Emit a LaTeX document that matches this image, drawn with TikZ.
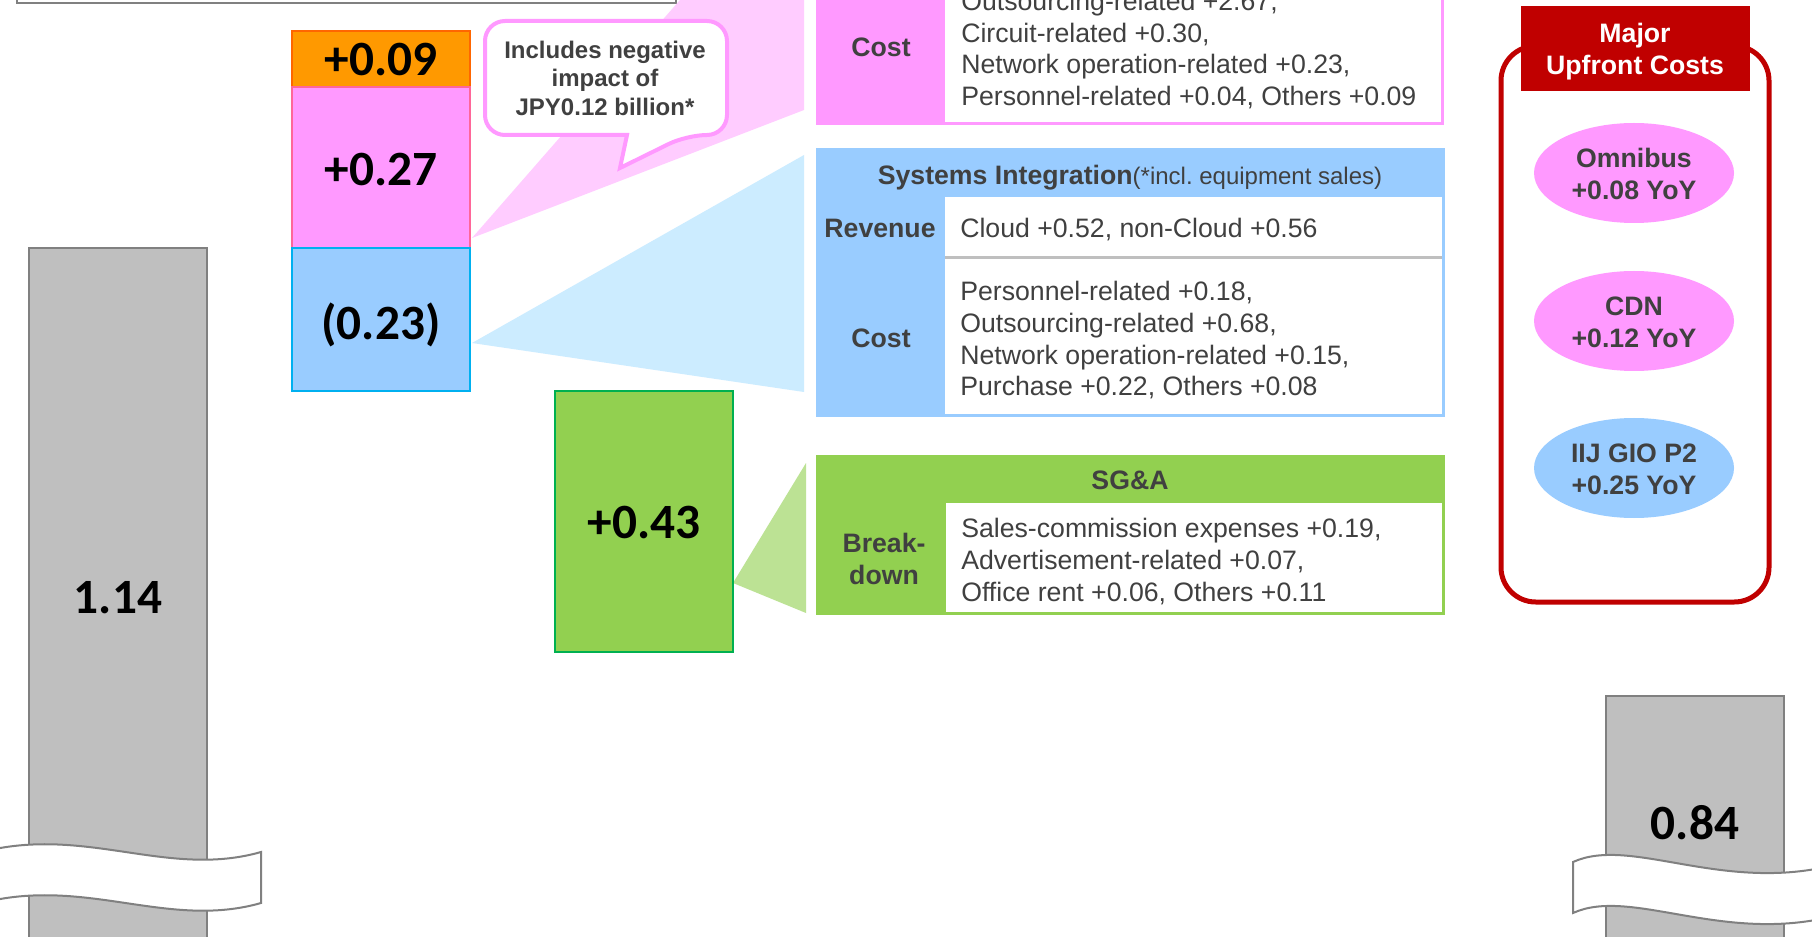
\documentclass[tikz,border=0pt]{standalone}
\usepackage{fontspec}
\setmainfont{Liberation Sans}
\newfontfamily\barfont{Carlito}
\frenchspacing
\definecolor{txtgray}{HTML}{404040}
\definecolor{barfill}{HTML}{BFBFBF}
\definecolor{bardraw}{HTML}{808080}
\definecolor{orgfill}{HTML}{FF9900}
\definecolor{orgdraw}{HTML}{FF6600}
\definecolor{pnkfill}{HTML}{FF99FF}
\definecolor{pnkdraw}{HTML}{FF6699}
\definecolor{blufill}{HTML}{99CCFF}
\definecolor{bludraw}{HTML}{00B0F0}
\definecolor{grnfill}{HTML}{92D050}
\definecolor{grndraw}{HTML}{00B050}
\definecolor{pnktri}{HTML}{FFCCFF}
\definecolor{blutri}{HTML}{CCECFF}
\definecolor{grntri}{HTML}{BCE294}
\definecolor{majred}{HTML}{C00000}
\definecolor{divgray}{HTML}{BFBFBF}

\begin{document}
\begin{tikzpicture}[x=0.75pt,y=0.75pt,yscale=-1,xscale=1,
  barlabel/.style={font=\barfont\bfseries\fontsize{37}{40}\selectfont, inner sep=0pt, text depth=0pt},
  celltext/.style={font=\fontsize{20}{23.75}\selectfont, text=txtgray, align=left, anchor=west, inner sep=0pt},
  cellhead/.style={font=\bfseries\fontsize{20}{24}\selectfont, text=txtgray, align=center, inner sep=0pt},
  ovaltext/.style={font=\bfseries\fontsize{20}{24}\selectfont, text=txtgray, align=center, inner sep=0pt},
  calltext/.style={font=\bfseries\fontsize{18}{21.4}\selectfont, text=txtgray, align=center, inner sep=0pt},
  barbox/.style={fill=barfill, draw=bardraw, line width=1.2pt},
  breakband/.style={fill=white, draw=bardraw, line width=1.5pt},
  callout/.style={fill=white, draw=pnkfill, line width=3pt}]
\useasboundingbox (0,0) rectangle (1812,937);
\clip (0,0) rectangle (1812,937);
\fill[white] (0,0) rectangle (1812,937);

% frame cut off at the top
\draw[bardraw, line width=1.5pt] (17,-60) rectangle (676,3.5);

% fans from the bars to the tables
\fill[pnktri] (472,238) -- (804,-142) -- (804,110) -- cycle;
\fill[blutri] (472,343) -- (804,155) -- (804,392) -- cycle;
\fill[grntri] (733,583) -- (806,463) -- (806,613) -- cycle;

% end bars
\draw[barbox] (29,248) rectangle (207,960);
\node[barlabel] (prev) at (118,597) {1.14};
\draw[barbox] (1606,696) rectangle (1784,960);
\node[barlabel] (curr) at (1695,822) {0.84};

% breaks
\draw[breakband] (-10,850) .. controls (90,828) and (170,878) .. (261,852) -- (261,903)
  .. controls (170,929) and (90,879) .. (-10,901) -- cycle;
\draw[breakband] (1830,866) .. controls (1720,892) and (1630,836) .. (1573,862) -- (1573,913)
  .. controls (1630,887) and (1720,943) .. (1830,917);

% stacked bar
\draw[fill=orgfill, draw=orgdraw, line width=1.2pt] (292,31) rectangle (470,87);
\node[barlabel] (orange) at (381,59) {+0.09};
\draw[fill=pnkfill, draw=pnkdraw, line width=1.2pt] (292,87) rectangle (470,248);
\node[barlabel] (pink) at (381,169) {+0.27};
\draw[fill=blufill, draw=bludraw, line width=1.2pt] (292,248) rectangle (470,391);
\node[barlabel] (blue) at (381,321) {(0.23)};
\draw[fill=grnfill, draw=grndraw, line width=1.2pt] (555,391) rectangle (733,652);
\node[barlabel] (green) at (644,522) {+0.43};

% note bubble
\draw[callout] (485,80) [rounded corners=15pt] -- (485,21) -- (727,21) -- (727,135) -- (687,135)
  [sharp corners] -- (620,168) -- (627,135) [rounded corners=15pt] -- (485,135) -- cycle;
\node[calltext] (note) at (605,78) {Includes negative\\impact of\\JPY0.12 billion*};

% network services table
\fill[pnkfill] (816,-80) rectangle (1444,125);
\fill[white] (945,-60) rectangle (1441,122);
\node[cellhead, text depth=0pt] (nscost) at (881,47) {Cost};
\node[celltext] (nslines) at (961,50) {Outsourcing-related +2.67,\\Circuit-related +0.30,\\Network operation-related +0.23,\\Personnel-related +0.04, Others +0.09};

% systems integration table
\fill[blufill] (816,148) rectangle (1445,417);
\fill[white] (945,197) rectangle (1442,257);
\fill[white] (945,258) rectangle (1442,414);
\draw[divgray, line width=2.2pt] (945,257.5) -- (1442,257.5);
\node[cellhead, text depth=0pt] (sihead) at (1130,175) {Systems Integration{\mdseries\fontsize{18}{20}\selectfont(*incl. equipment sales)}};
\node[cellhead, text depth=0pt] (sirev) at (880,228) {Revenue};
\node[celltext, text depth=0pt] (sirevline) at (960,228) {Cloud +0.52, non-Cloud +0.56};
\node[cellhead, text depth=0pt] (sicost) at (881,338) {Cost};
\node[celltext] (silines) at (960,340.5) {Personnel-related +0.18,\\Outsourcing-related +0.68,\\Network operation-related +0.15,\\Purchase +0.22, Others +0.08};

% SG&A table
\fill[grnfill] (816,455) rectangle (1445,615);
\fill[white] (946,503) rectangle (1442,612);
\node[cellhead, text depth=0pt] (sgahead) at (1130,480) {SG\&A};
\node[cellhead] (sgabreak) at (884,559) {Break-\\down};
\node[celltext] (sgalines) at (961,561.5) {Sales-commission expenses +0.19,\\Advertisement-related +0.07,\\Office rent +0.06, Others +0.11};

% upfront costs panel
\draw[majred, line width=3.75pt, rounded corners=26pt] (1501,46) rectangle (1769,602);
\fill[majred] (1521,6) rectangle (1750,91);
\node[ovaltext, text=white] (major) at (1635,52) {Major\\Upfront Costs};
\fill[pnkfill] (1634,173) ellipse [x radius=100, y radius=50];
\node[ovaltext] (omnibus) at (1634,174) {Omnibus\\+0.08 YoY};
\fill[pnkfill] (1634,321) ellipse [x radius=100, y radius=50];
\node[ovaltext] (cdn) at (1634,322) {CDN\\+0.12 YoY};
\fill[blufill] (1634,468) ellipse [x radius=100, y radius=50];
\node[ovaltext] (gio) at (1634,469) {IIJ GIO P2\\+0.25 YoY};
\end{tikzpicture}
\end{document}
